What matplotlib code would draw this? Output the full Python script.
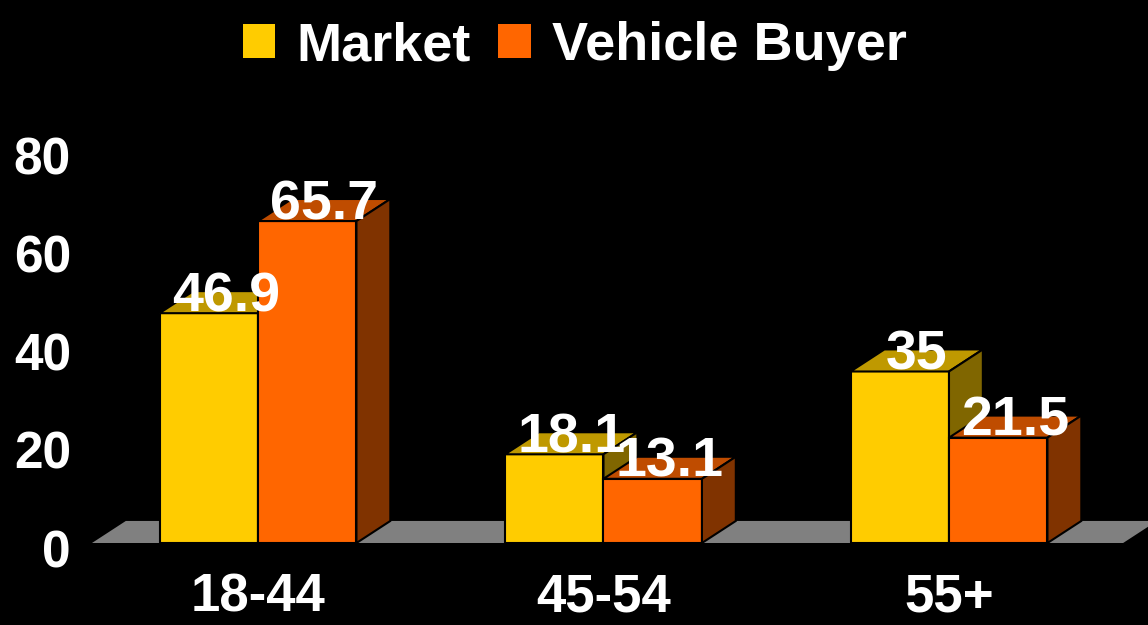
import matplotlib
matplotlib.use("Agg")
import matplotlib.pyplot as plt
from matplotlib.patches import Polygon, Rectangle
from matplotlib.transforms import ScaledTranslation

# ---- data ----
categories = ["18-44", "45-54", "55+"]
series_names = ["Market", "Vehicle Buyer"]
market = [46.9, 18.1, 35]
vehicle_buyer = [65.7, 13.1, 21.5]
y_ticks = [0, 20, 40, 60, 80]

# ---- styles ----
front_colors = ["#FFCC00", "#FF6600"]
top_colors = ["#BF9900", "#BF4C00"]
side_colors = ["#806600", "#803300"]
floor_color = "#808080"
bar_w = 0.285
dx, dy = 0.098, 4.5   # depth offset in data units

W, H = 1148, 625
fig = plt.figure(figsize=(W / 100, H / 100), dpi=100, facecolor="black")
ax = fig.add_axes([85 / W, 82 / H, (W - 85) / W, 443 / H])
ax.set_facecolor("black")
ax.set_xlim(-0.5007, 2.576)
ax.set_ylim(0, 90.4)
for s in ax.spines.values():
    s.set_visible(False)

font = "Liberation Sans"

# floor
fx0, fx1 = -0.4805, 2.504
ax.add_patch(Polygon([(fx0, 0), (fx1, 0), (fx1 + dx, dy), (fx0 + dx, dy)],
                     closed=True, facecolor=floor_color, edgecolor="none",
                     clip_on=False, zorder=1))

def bar3d(xl, v, k):
    xr = xl + bar_w
    kw = dict(edgecolor="black", linewidth=1.5, clip_on=False, zorder=2,
              joinstyle="miter")
    ax.add_patch(Rectangle((xl, 0), bar_w, v, facecolor=front_colors[k], **kw))
    ax.add_patch(Polygon([(xl, v), (xl + dx, v + dy), (xr + dx, v + dy), (xr, v)],
                         closed=True, facecolor=top_colors[k], **kw))
    ax.add_patch(Polygon([(xr, 0), (xr + dx, dy), (xr + dx, v + dy), (xr, v)],
                         closed=True, facecolor=side_colors[k], **kw))

series = [market, vehicle_buyer]
for i in range(len(categories)):
    for k, vals in enumerate(series):
        xl = i - bar_w + k * bar_w
        bar3d(xl, vals[i], k)

# value labels (drawn after all bars)
for i in range(len(categories)):
    for k, vals in enumerate(series):
        xl = i - bar_w + k * bar_w
        v = vals[i]
        ax.annotate(f"{v:g}", xy=(xl + bar_w / 2 + dx / 2, v + dy),
                    xytext=(0, -14.5), textcoords="offset points",
                    ha="center", va="baseline", color="white",
                    fontsize=40, fontweight="bold", family=font,
                    zorder=5, annotation_clip=False)

# axes ticks
ax.set_yticks(y_ticks)
ax.set_yticklabels([str(t) for t in y_ticks], color="white", fontsize=37,
                   fontweight="bold", family=font)
ax.set_xticks(range(len(categories)))
ax.set_xticklabels(categories, color="white", fontsize=38,
                   fontweight="bold", family=font)
ax.tick_params(axis="y", length=0, pad=10)
ax.tick_params(axis="x", length=0, pad=21)
off = ScaledTranslation(0, -5 / 100, fig.dpi_scale_trans)
for lab in ax.get_yticklabels():
    lab.set_transform(lab.get_transform() + off)

# legend
handles = [Rectangle((0, 0), 1, 1, facecolor=c, edgecolor="none") for c in front_colors]
leg = fig.legend(handles, series_names, loc="upper center",
                 bbox_to_anchor=(575 / W, 1.0 + 6 / H), ncol=2, frameon=False,
                 prop=dict(family=font, weight="bold", size=39),
                 handlelength=0.6, handleheight=0.6, handletextpad=0.4,
                 columnspacing=0.5, borderaxespad=0.1)
for t in leg.get_texts():
    t.set_color("white")

fig.savefig("out.png", dpi=100, facecolor="black")
